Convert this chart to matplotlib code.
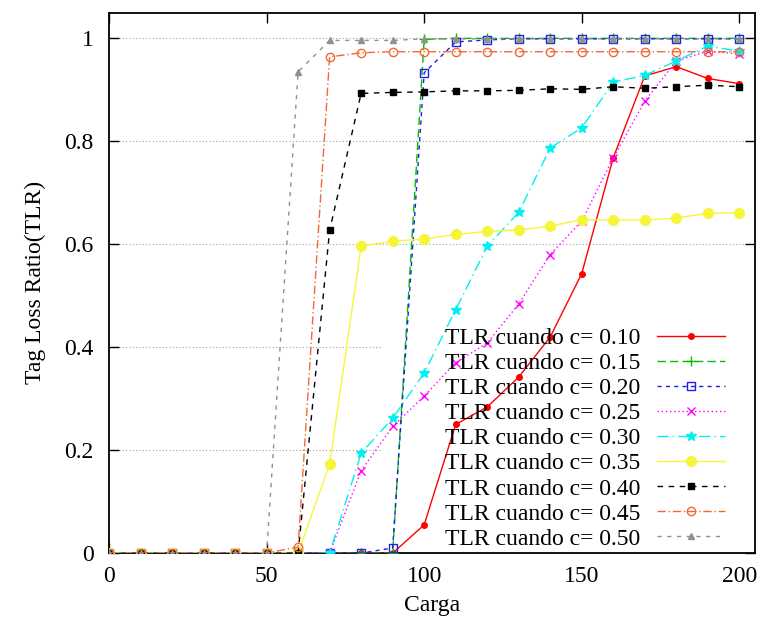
import matplotlib
matplotlib.use("Agg")
import matplotlib.pyplot as plt
from matplotlib.patches import Rectangle

plt.rcParams['font.family'] = ['Liberation Serif', 'DejaVu Serif']

carga = [0, 10, 20, 30, 40, 50, 60, 70, 80, 90, 100,
         110, 120, 130, 140, 150, 160, 170, 180, 190, 200]

c10 = [0, 0, 0, 0, 0, 0, 0, 0, 0, 0, 0.055, 0.25, 0.284, 0.342, 0.42,
       0.543, 0.768, 0.927, 0.945, 0.922, 0.912]
c15 = [0, 0, 0, 0, 0, 0, 0, 0, 0, 0, 0.998, 1.0, 1.0, 1.0, 1.0,
       1.0, 1.0, 1.0, 1.0, 1.0, 1.0]
c20 = [0, 0, 0, 0, 0, 0, 0, 0, 0, 0.01, 0.933, 0.993, 0.997, 0.999, 0.999,
       0.999, 0.999, 0.999, 0.999, 0.999, 0.999]
c25 = [0, 0, 0, 0, 0, 0, 0, 0, 0.16, 0.246, 0.305, 0.37, 0.408, 0.484, 0.58,
       0.645, 0.768, 0.878, 0.956, 0.975, 0.97]
c30 = [0, 0, 0, 0, 0, 0, 0, 0, 0.194, 0.262, 0.35, 0.473, 0.596, 0.662, 0.787,
       0.826, 0.915, 0.928, 0.956, 0.985, 0.975]
c35 = [0, 0, 0, 0, 0, 0, 0, 0.173, 0.596, 0.606, 0.61, 0.619, 0.625, 0.628, 0.635,
       0.648, 0.647, 0.647, 0.651, 0.66, 0.661]
c40 = [0, 0, 0, 0, 0, 0, 0, 0.627, 0.893, 0.895, 0.896, 0.898, 0.898, 0.899, 0.902,
       0.901, 0.906, 0.903, 0.906, 0.909, 0.906]
c45 = [0, 0, 0, 0, 0, 0, 0.012, 0.964, 0.972, 0.974, 0.974, 0.974, 0.974, 0.974, 0.974,
       0.974, 0.974, 0.974, 0.974, 0.974, 0.974]
c50 = [0, 0, 0, 0, 0, 0, 0.935, 0.996, 0.996, 0.996, 0.999, 0.999, 0.999, 0.999, 0.999,
       0.999, 0.999, 0.999, 0.999, 0.999, 0.999]

labels = ['TLR cuando c= 0.10', 'TLR cuando c= 0.15', 'TLR cuando c= 0.20',
          'TLR cuando c= 0.25', 'TLR cuando c= 0.30', 'TLR cuando c= 0.35',
          'TLR cuando c= 0.40', 'TLR cuando c= 0.45', 'TLR cuando c= 0.50']

# (color, linestyle, marker, markersize, filled)
styles = [
    ('#ff0000', '-', 'o', 4, True),
    ('#00c000', (0, (6, 3)), '+', 7, True),
    ('#2020e0', (0, (3, 3)), 's', 6, False),
    ('#ff00ff', (0, (1, 2)), 'x', 6, True),
    ('#00f0f0', (0, (8, 3, 1, 3)), '*', 7, True),
    ('#f5f53a', '-', 'o', 7, True),
    ('#000000', (0, (4, 4)), 's', 5, True),
    ('#f26a32', (0, (6, 2, 1, 2)), 'o', 6, False),
    ('#909090', (0, (3, 4)), '^', 5, True),
]

fig = plt.figure(figsize=(7.64, 6.3), dpi=100)
ax = fig.add_axes([0.1427, 0.122, 0.8456, 0.858])

series = [c10, c15, c20, c25, c30, c35, c40, c45, c50]
for ys, lab, (col, ls, mk, ms, filled) in zip(series, labels, styles):
	ax.plot(carga, ys, color=col, linestyle=ls, linewidth=1.0, marker=mk,
	        markersize=ms, markerfacecolor=col if filled else 'none',
	        markeredgecolor=col, markeredgewidth=1.0, label=lab, zorder=3)

ax.set_xlim(0, 205)
ax.set_ylim(0, 1.05)
ax.set_xticks([0, 50, 100, 150, 200])
ax.set_yticks([0, 0.2, 0.4, 0.6, 0.8, 1.0])
ax.set_yticklabels(['0', '0.2', '0.4', '0.6', '0.8', '1'])
ax.set_axisbelow(True)
ax.yaxis.grid(True, linestyle=(0, (1, 2)), color='#a0a0a0', linewidth=0.8)
ax.tick_params(direction='in', top=True, right=True, length=7, width=1.0,
               labelsize=17)
ax.tick_params(axis='y', pad=11)
ax.tick_params(axis='x', pad=9)
for s in ax.spines.values():
	s.set_linewidth(1.3)

# white area behind the key that hides the grid
ax.add_patch(Rectangle((87, 0), 118, 0.45, facecolor='white', edgecolor='none', zorder=1))

ax.set_xlabel('Carga', fontsize=17, labelpad=6)
ax.set_ylabel('Tag Loss Ratio(TLR)', fontsize=17, labelpad=13)

leg = ax.legend(loc='upper left', bbox_to_anchor=(0.582, 0.480),
                bbox_transform=fig.transFigure, frameon=False, fontsize=17,
                markerfirst=False, handlelength=2.9, handletextpad=0.7,
                labelspacing=0.15, borderpad=0, borderaxespad=0)

fig.savefig('out.png', dpi=100)
